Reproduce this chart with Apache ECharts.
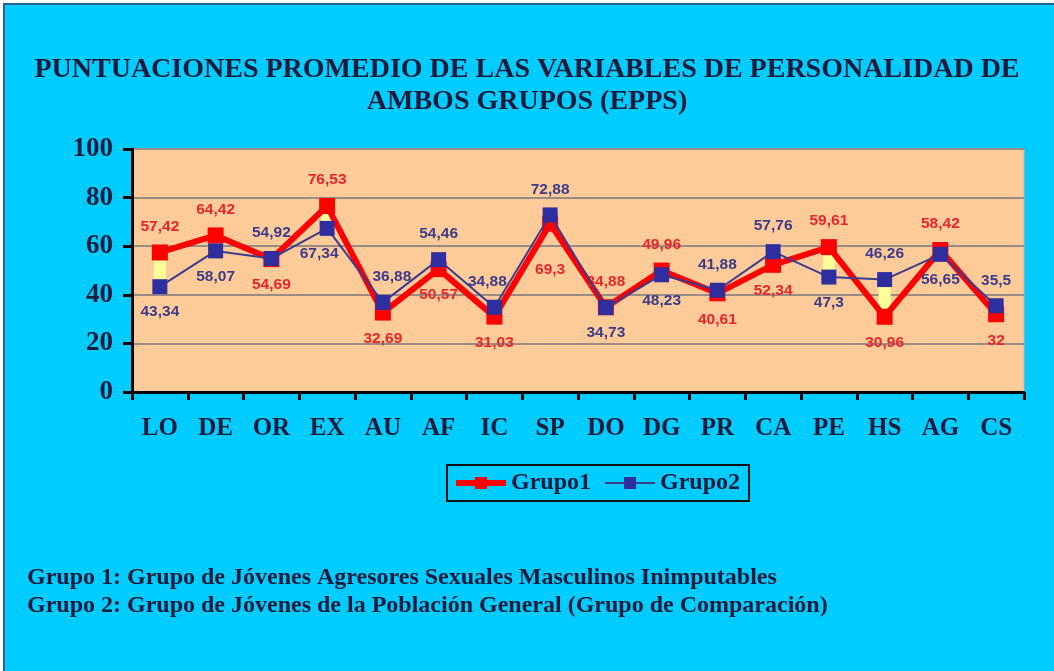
<!DOCTYPE html>
<html>
<head>
<meta charset="utf-8">
<script src="https://cdn.jsdelivr.net/npm/echarts@6/dist/echarts.min.js"></script>
<style>
  html, body { margin: 0; padding: 0; background: #fff; }
  .frame {
    position: absolute; left: 3px; top: 3px;
    width: 1060px; height: 680px;
    border: 2px solid #2f5f9a;
    background: #00ccff;
  }
  #chart { position: absolute; left: 0; top: 0; width: 1054px; height: 671px; }
</style>
</head>
<body>
<div class="frame"></div>
<div id="chart"></div>
<script>
var categories = ['LO', 'DE', 'OR', 'EX', 'AU', 'AF', 'IC', 'SP', 'DO', 'DG', 'PR', 'CA', 'PE', 'HS', 'AG', 'CS']
var grupo1 = [57.42, 64.42, 54.69, 76.53, 32.69, 50.57, 31.03, 69.3, 34.88, 49.96, 40.61, 52.34, 59.61, 30.96, 58.42, 32]
var grupo2 = [43.34, 58.07, 54.92, 67.34, 36.88, 54.46, 34.88, 72.88, 34.73, 48.23, 41.88, 57.76, 47.3, 46.26, 56.65, 35.5]
// where each data label sits, t = above, b = below
var pos1 = ['t', 't', 'b', 't', 'b', 'b', 'b', 'b', 't', 't', 'b', 'b', 't', 'b', 't', 'b']
var pos2 = ['b', 'b', 't', 'b', 't', 't', 't', 't', 'b', 'b', 't', 't', 'b', 't', 'b', 't']
var yTicks = [0, 20, 40, 60, 80, 100]

var serif = '"Liberation Serif", "DejaVu Serif", serif'
var sans = '"Liberation Sans", Arial, sans-serif'
var ink = '#1a1a3a'

// a few labels are nudged in the original picture (pixels)
var nudge1 = { 7: [0, 20] }
var nudge2 = { 3: [-8, 0], 4: [9, 0], 6: [-7, 0] }

function fmt (v) {
  return String(v).replace('.', ',')
}

function pointData (vals, pos, nudge) {
  return vals.map(function (v, i) {
    return {
      value: v,
      label: {
        position: pos[i] === 't' ? 'top' : 'bottom',
        distance: 10,
        offset: nudge[i] || [0, 0]
      }
    }
  })
}

// up/down bars between the two groups
var lowPart = grupo1.map(function (v, i) { return Math.min(v, grupo2[i]) })
var gapPart = grupo1.map(function (v, i) { return Math.abs(v - grupo2[i]) })

var myChart = echarts.init(document.getElementById('chart'))
var option = {
  backgroundColor: 'transparent',
  animation: false,
  graphic: [
    {
      type: 'text', left: 'center', top: 56,
      style: { text: 'PUNTUACIONES PROMEDIO DE LAS VARIABLES DE PERSONALIDAD DE', font: 'bold 28px ' + serif, fill: ink }
    },
    {
      type: 'text', left: 'center', top: 88,
      style: { text: 'AMBOS GRUPOS (EPPS)', font: 'bold 28px ' + serif, fill: ink }
    },
    {
      type: 'text', left: 27, top: 566,
      style: { text: 'Grupo 1: Grupo de Jóvenes Agresores Sexuales Masculinos Inimputables', font: 'bold 24px ' + serif, fill: ink }
    },
    {
      type: 'text', left: 27, top: 594,
      style: { text: 'Grupo 2: Grupo de Jóvenes de la Población General (Grupo de Comparación)', font: 'bold 24px ' + serif, fill: ink }
    }
  ],
  grid: {
    left: 132, right: 30, top: 149, bottom: 279,
    show: true, backgroundColor: '#ffcc99', borderColor: '#c8b4a0', borderWidth: 1
  },
  legend: {
    data: [
      { name: 'Grupo1', lineStyle: { width: 6 } },
      { name: 'Grupo2', lineStyle: { width: 2 } }
    ],
    left: 447, top: 465,
    padding: [6, 9, 6, 6],
    itemGap: 13,
    itemWidth: 50,
    itemHeight: 15,
    borderColor: '#111', borderWidth: 2,
    textStyle: { fontFamily: serif, fontWeight: 'bold', fontSize: 24, color: ink }
  },
  xAxis: {
    type: 'category',
    data: categories,
    boundaryGap: true,
    axisLine: { lineStyle: { color: '#000', width: 3 } },
    axisTick: { show: true, inside: false, length: 8, lineStyle: { color: '#000', width: 3 } },
    axisLabel: { margin: 24, fontFamily: serif, fontWeight: 'bold', fontSize: 25, color: ink }
  },
  yAxis: {
    type: 'value',
    min: yTicks[0], max: yTicks[yTicks.length - 1], interval: yTicks[1] - yTicks[0],
    axisLine: { show: true, lineStyle: { color: '#000', width: 3 } },
    axisTick: { show: true, length: 9, lineStyle: { color: '#000', width: 3 } },
    axisLabel: { margin: 19, fontFamily: serif, fontWeight: 'bold', fontSize: 27, color: ink },
    splitLine: { show: true, lineStyle: { color: '#9a8c84', width: 2 } }
  },
  series: [
    {
      name: 'low', type: 'bar', stack: 'ud', barWidth: 12,
      itemStyle: { color: 'transparent' },
      silent: true, data: lowPart, z: 1
    },
    {
      name: 'gap', type: 'bar', stack: 'ud', barWidth: 12,
      itemStyle: { color: '#ffff99' },
      silent: true, data: gapPart, z: 1
    },
    {
      name: 'Grupo1',
      type: 'line',
      symbol: 'rect', symbolSize: 16,
      lineStyle: { color: '#ff0000', width: 6 },
      itemStyle: { color: '#ff0000' },
      label: { show: true, formatter: function (p) { return fmt(p.value) }, fontFamily: sans, fontWeight: 'bold', fontSize: 15.5, color: '#e8262a' },
      data: pointData(grupo1, pos1, nudge1),
      z: 3
    },
    {
      name: 'Grupo2',
      type: 'line',
      symbol: 'rect', symbolSize: 15,
      lineStyle: { color: '#3b3b8f', width: 2 },
      itemStyle: { color: '#2e2e9e' },
      label: { show: true, formatter: function (p) { return fmt(p.value) }, fontFamily: sans, fontWeight: 'bold', fontSize: 15.5, color: '#3b3b8a' },
      data: pointData(grupo2, pos2, nudge2),
      z: 4
    }
  ]
}
option && myChart.setOption(option)
window.addEventListener('resize', function () {
  myChart.resize()
})
</script>
</body>
</html>
